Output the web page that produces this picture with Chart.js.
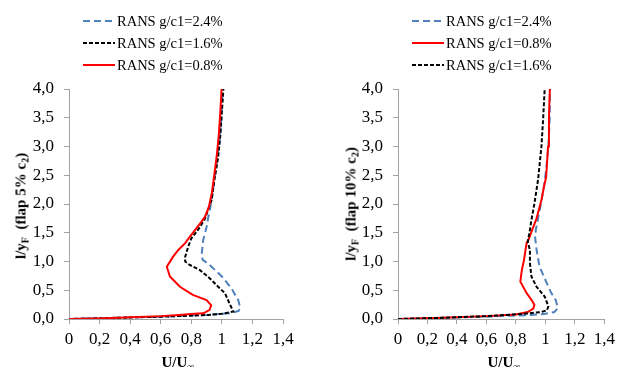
<!DOCTYPE html>
<html>
<head>
<meta charset="utf-8">
<script src="https://cdn.jsdelivr.net/npm/chart.js@4.4.1/dist/chart.umd.min.js"></script>
<style>
  html, body { margin: 0; padding: 0; background: #fff; }
  #wrap { position: relative; width: 620px; height: 367px; overflow: hidden; font-family: "Liberation Serif", "Times New Roman", serif; }
  .box { position: absolute; top: 0; width: 310px; height: 367px; }
  .legend { position: absolute; font-size: 14.5px; color: #000; }
  .legend .row { position: absolute; left: 0; height: 16px; white-space: nowrap; display: flex; align-items: center; }
  .legend svg { display: block; margin-right: 2px; }
  .ytitle { position: absolute; font-weight: bold; font-size: 15px; white-space: nowrap; transform: translate(-50%, -50%) rotate(-90deg); }
  .xtitle { position: absolute; font-weight: bold; font-size: 15px; white-space: nowrap; transform: translateX(-50%); }
  sub { font-size: 10px; vertical-align: -3px; line-height: 0; }
</style>
</head>
<body>
<div id="wrap">
  <div class="box" style="left:0"><canvas id="chartLeft" width="310" height="367"></canvas></div>
  <div class="box" style="left:310px"><canvas id="chartRight" width="310" height="367"></canvas></div>

  <div class="legend" id="legendLeft" style="left:83px; top:0"></div>
  <div class="legend" id="legendRight" style="left:412px; top:0"></div>

  <div class="ytitle" style="left:21px; top:206px">l/y<sub>F</sub> &nbsp;(flap 5% c<sub>2</sub>)</div>
  <div class="ytitle" style="left:351px; top:204px">l/y<sub>F</sub> &nbsp;(flap 10% c<sub>2</sub>)</div>
  <div class="xtitle" style="left:178px; top:354px">U/U<sub>∞</sub></div>
  <div class="xtitle" style="left:504px; top:354px">U/U<sub>∞</sub></div>
</div>

<script>
// ค่าที่อ่านจากภาพ (U/U∞ , l/yF)
const seriesNames = ['RANS g/c1=2.4%', 'RANS g/c1=1.6%', 'RANS g/c1=0.8%'];
const xTickLabels = ['0', '0,2', '0,4', '0,6', '0,8', '1', '1,2', '1,4'];
const yTickLabels = ['0,0', '0,5', '1,0', '1,5', '2,0', '2,5', '3,0', '3,5', '4,0'];

// flap 5% c2
const leftBlueU  = [0, 0.3, 0.6, 0.9, 1.05, 1.11, 1.12, 1.107, 1.08, 1.064, 1.0, 0.92, 0.875, 0.867, 0.878, 0.90, 0.91, 0.925, 0.945, 0.965, 0.985, 0.997, 1.005];
const leftBlueY  = [0, 0.02, 0.04, 0.07, 0.10, 0.14, 0.20, 0.33, 0.45, 0.53, 0.74, 0.94, 1.03, 1.10, 1.37, 1.60, 1.75, 1.95, 2.3, 2.7, 3.1, 3.5, 4.0];
const leftBlackU = [0, 0.3, 0.6, 0.91, 1.0, 1.075, 1.05, 1.02, 0.976, 0.92, 0.857, 0.79, 0.76, 0.76, 0.78, 0.80, 0.857, 0.89, 0.933, 0.95, 0.975, 0.99, 1.0, 1.01];
const leftBlackY = [0, 0.02, 0.04, 0.07, 0.09, 0.13, 0.27, 0.45, 0.56, 0.71, 0.85, 0.94, 1.0, 1.08, 1.26, 1.40, 1.60, 1.75, 2.07, 2.4, 2.8, 3.2, 3.6, 4.0];
const leftRedU   = [0, 0.2, 0.4, 0.6, 0.72, 0.82, 0.88, 0.92, 0.93, 0.90, 0.81, 0.726, 0.66, 0.64, 0.68, 0.715, 0.76, 0.79, 0.857, 0.89, 0.915, 0.935, 0.95, 0.965, 0.98, 0.99, 0.998];
const leftRedY   = [0, 0.01, 0.03, 0.05, 0.07, 0.09, 0.10, 0.16, 0.24, 0.33, 0.42, 0.56, 0.74, 0.91, 1.08, 1.20, 1.32, 1.43, 1.66, 1.78, 1.95, 2.2, 2.5, 2.8, 3.2, 3.6, 4.0];

// flap 10% c2
const rightBlueU  = [0, 0.3, 0.6, 0.9, 1.0, 1.06, 1.085, 1.07, 1.04, 1.02, 0.96, 0.94, 0.93, 0.935, 0.95, 0.97, 0.99, 1.005, 1.02, 1.028, 1.032];
const rightBlueY  = [0, 0.02, 0.04, 0.07, 0.09, 0.12, 0.19, 0.33, 0.45, 0.56, 0.91, 1.2, 1.43, 1.55, 1.75, 2.0, 2.3, 2.6, 3.0, 3.4, 4.0];
const rightRedU   = [0, 0.3, 0.6, 0.8, 0.88, 0.918, 0.925, 0.906, 0.873, 0.83, 0.84, 0.855, 0.865, 0.873, 0.884, 0.918, 0.94, 0.973, 0.99, 1.005, 1.018, 1.024, 1.03];
const rightRedY   = [0, 0.02, 0.05, 0.08, 0.12, 0.18, 0.25, 0.33, 0.45, 0.65, 0.85, 1.03, 1.2, 1.33, 1.37, 1.6, 1.75, 2.07, 2.3, 2.47, 3.0, 3.5, 4.0];
const rightBlackU = [0, 0.3, 0.6, 0.85, 0.97, 1.01, 1.02, 0.995, 0.94, 0.905, 0.895, 0.895, 0.88, 0.895, 0.905, 0.925, 0.95, 0.973, 0.985, 0.995];
const rightBlackY = [0, 0.02, 0.05, 0.09, 0.12, 0.15, 0.22, 0.39, 0.56, 0.74, 0.97, 1.2, 1.34, 1.55, 1.72, 2.0, 2.42, 3.0, 3.5, 4.0];

const axisGray = '#a3a3a3';
const styles = {
  blue:  { borderColor: '#4f81bd', borderDash: [7, 4] },
  black: { borderColor: '#000000', borderDash: [4, 2] },
  red:   { borderColor: '#ff0000', borderDash: [] }
};

function toPoints(us, ys) {
  return us.map((u, i) => ({ x: u, y: ys[i] }));
}

function makeDataset(label, us, ys, style, order) {
  return {
    label: label,
    data: toPoints(us, ys),
    showLine: true,
    fill: false,
    borderWidth: 2,
    borderColor: style.borderColor,
    borderDash: style.borderDash,
    pointRadius: 0,
    tension: 0,
    order: order
  };
}

function makeConfig(datasets, yAxisWidth, padRight) {
  return {
    type: 'scatter',
    data: { datasets: datasets },
    options: {
      responsive: false,
      animation: false,
      devicePixelRatio: 1,
      layout: { padding: { top: 89, right: padRight, bottom: 0, left: 0 } },
      plugins: { legend: { display: false }, tooltip: { enabled: false } },
      scales: {
        x: {
          type: 'linear',
          min: 0, max: 1.4,
          afterFit: (scale) => { scale.height = 48; },
          afterBuildTicks: (scale) => {
            scale.ticks = xTickLabels.map((t, i) => ({ value: i * 0.2 }));
          },
          ticks: {
            color: '#000',
            padding: 5,
            maxRotation: 0,
            autoSkip: false,
            font: { family: '"Liberation Serif", serif', size: 17 },
            callback: (v, i) => xTickLabels[i]
          },
          grid: { drawOnChartArea: false, tickLength: 5, color: axisGray },
          border: { color: axisGray, width: 1 }
        },
        y: {
          type: 'linear',
          min: 0, max: 4,
          afterFit: (scale) => { scale.width = yAxisWidth; },
          afterBuildTicks: (scale) => {
            scale.ticks = yTickLabels.map((t, i) => ({ value: i * 0.5 }));
          },
          ticks: {
            color: '#000',
            padding: 10,
            autoSkip: false,
            font: { family: '"Liberation Serif", serif', size: 17 },
            callback: (v, i) => yTickLabels[i]
          },
          grid: { drawOnChartArea: false, tickLength: 5, color: axisGray },
          border: { color: axisGray, width: 1 }
        }
      }
    }
  };
}

// legend (html) – เส้นตัวอย่างวาดด้วย svg
function buildLegend(el, entries) {
  const tops = [13, 35, 57];
  entries.forEach((e, i) => {
    const row = document.createElement('div');
    row.className = 'row';
    row.style.top = tops[i] + 'px';
    const dash = e.style.borderDash.length ? e.style.borderDash.join(',') : 'none';
    row.innerHTML =
      '<svg width="32" height="4"><line x1="0" y1="2" x2="32" y2="2" stroke="' + e.style.borderColor +
      '" stroke-width="2" stroke-dasharray="' + dash + '"/></svg><span>' + e.label + '</span>';
    el.appendChild(row);
  });
}

const leftSets = [
  makeDataset(seriesNames[0], leftBlueU, leftBlueY, styles.blue, 3),
  makeDataset(seriesNames[1], leftBlackU, leftBlackY, styles.black, 2),
  makeDataset(seriesNames[2], leftRedU, leftRedY, styles.red, 1)
];
const rightSets = [
  makeDataset(seriesNames[0], rightBlueU, rightBlueY, styles.blue, 3),
  makeDataset(seriesNames[2], rightRedU, rightRedY, styles.red, 2),
  makeDataset(seriesNames[1], rightBlackU, rightBlackY, styles.black, 1)
];

new Chart(document.getElementById('chartLeft').getContext('2d'), makeConfig(leftSets, 69, 27));
new Chart(document.getElementById('chartRight').getContext('2d'), makeConfig(rightSets, 88, 13));

buildLegend(document.getElementById('legendLeft'), [
  { label: seriesNames[0], style: styles.blue },
  { label: seriesNames[1], style: styles.black },
  { label: seriesNames[2], style: styles.red }
]);
buildLegend(document.getElementById('legendRight'), [
  { label: seriesNames[0], style: styles.blue },
  { label: seriesNames[2], style: styles.red },
  { label: seriesNames[1], style: styles.black }
]);
</script>
</body>
</html>
